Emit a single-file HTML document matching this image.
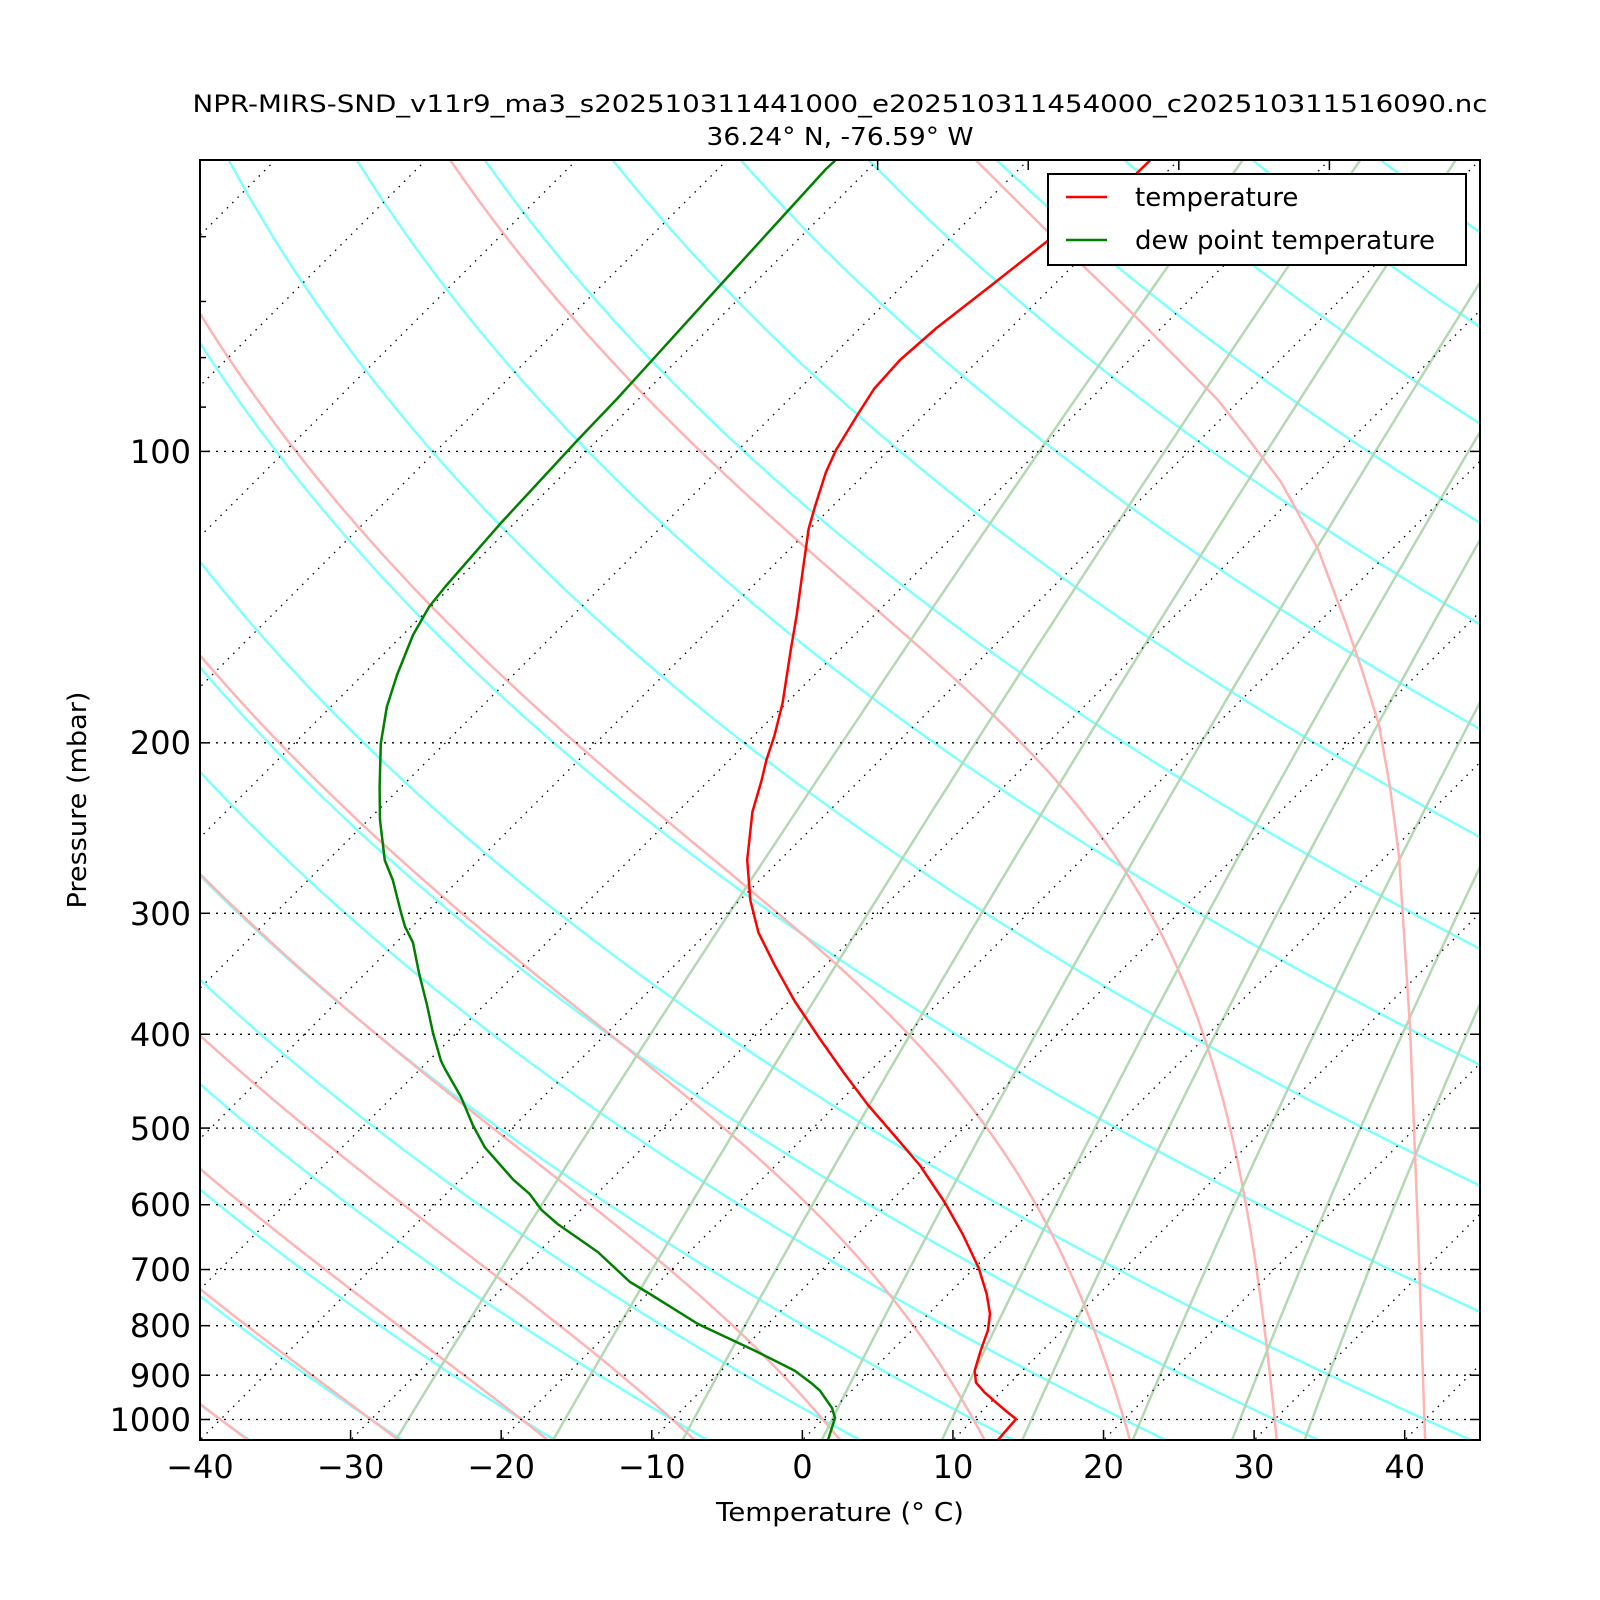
<!DOCTYPE html>
<html><head><meta charset="utf-8">
<style>
html,body{margin:0;padding:0;background:#fff;}
svg{display:block;font-family:"DejaVu Sans","Liberation Sans",sans-serif;}
</style></head>
<body>
<svg id="s" width="1600" height="1600" viewBox="0 0 1600 1600" xmlns="http://www.w3.org/2000/svg">
<rect width="1600" height="1600" fill="#fff"/>
<defs><clipPath id="c"><rect x="200" y="160" width="1280" height="1280"/></clipPath></defs>
<g id="g" clip-path="url(#c)"></g>
<g clip-path="url(#c)" fill="none" stroke-width="2.5" stroke-linejoin="round">
<polyline stroke="#ffb3b3" points="972.7,157 1045,229 1133,314 1218,400 1250,441 1281,482 1318,549 1345,621 1362,670 1379,725 1390,787 1399,856 1410,1027 1418,1230 1425,1437 1426,1445"/>
<polyline stroke="#ff0000" points="1153.5,157 1135,175 1045,243 993,284 936.5,328 900,360 874,389 858,414 836,450 826,472 815,506.5 808.7,528.6 802.7,571 796.7,615 790.6,651 782.6,703 774.5,735.5 766.5,759.6 761.7,780 752.4,812 747.2,860 750.4,900.5 758.5,932.7 774.5,964.8 794.6,1001 820,1039 844,1073 868,1105 900,1142 920.4,1166 944.5,1202 962.6,1234 978.7,1268 986.7,1294 990,1314 988,1330 980.7,1350.5 974.7,1370.6 976,1382.6 984.7,1392.6 1004.8,1410 1016,1419 998,1440"/>
<polyline stroke="#008000" points="840,156 826,169 718,287.6 617.8,398 577.7,440 501.3,522.6 445,587 429,607 413,635 397,675 386.8,707 380.8,743.6 379.6,787 380,820 384.8,860.4 392.9,880.4 401,912.6 405,926.6 413,942.7 419,973 427,1005 433,1033 441,1061 445,1069 461,1097 473,1125.5 485,1147.6 513.4,1179.8 529.5,1193.8 541.5,1209.9 557.6,1224 597.8,1252 630,1282 650,1294 698,1324 754.5,1350.5 794.6,1370.6 810.7,1382.6 820,1390.7 832,1408 835,1418 828,1440"/>
</g>
<rect x="200" y="160" width="1280" height="1280" fill="none" stroke="#000" stroke-width="2"/>
<g id="ticks" stroke="#000" stroke-width="1.5"></g>
<g font-size="32" fill="#000" text-anchor="end">
<text x="191" y="463">100</text>
<text x="191" y="754">200</text>
<text x="191" y="925">300</text>
<text x="191" y="1046">400</text>
<text x="191" y="1140">500</text>
<text x="191" y="1216">600</text>
<text x="191" y="1281">700</text>
<text x="191" y="1337">800</text>
<text x="191" y="1387">900</text>
<text x="191" y="1431">1000</text>
</g>
<g font-size="32" fill="#000" text-anchor="middle">
<text x="200" y="1478">−40</text>
<text x="350.6" y="1478">−30</text>
<text x="501.2" y="1478">−20</text>
<text x="651.8" y="1478">−10</text>
<text x="802.4" y="1478">0</text>
<text x="953" y="1478">10</text>
<text x="1103.5" y="1478">20</text>
<text x="1254" y="1478">30</text>
<text x="1404.7" y="1478">40</text>
</g>
<text x="840" y="1521" font-size="26" text-anchor="middle" textLength="248" lengthAdjust="spacingAndGlyphs">Temperature (° C)</text>
<text transform="translate(86,800) rotate(-90)" font-size="26" text-anchor="middle" textLength="217" lengthAdjust="spacingAndGlyphs">Pressure (mbar)</text>
<text x="840" y="112" font-size="24" text-anchor="middle" textLength="1295" lengthAdjust="spacingAndGlyphs">NPR-MIRS-SND_v11r9_ma3_s202510311441000_e202510311454000_c202510311516090.nc</text>
<text x="840" y="145" font-size="25" text-anchor="middle" textLength="267" lengthAdjust="spacingAndGlyphs">36.24° N, -76.59° W</text>
<rect x="1048" y="174" width="418" height="91" fill="#fff" stroke="#000" stroke-width="2"/>
<line x1="1066" y1="197" x2="1107" y2="197" stroke="#ff0000" stroke-width="2.5"/>
<line x1="1066" y1="240" x2="1107" y2="240" stroke="#008000" stroke-width="2.5"/>
<text x="1135" y="206" font-size="26">temperature</text>
<text x="1135" y="249" font-size="26">dew point temperature</text>
</svg>
<script>
(function(){
var L21=Math.log10(21);
function Y(p){return 160+1280*Math.log10(p/50)/L21;}
function X(T,p){return 200+(T+40)*1280/85+(1440-Y(p));}
var g=document.getElementById('g'),NS="http://www.w3.org/2000/svg";
function path(pts,stroke,w,dash){
  var d="";for(var i=0;i<pts.length;i++){d+=(i?"L":"M")+pts[i][0].toFixed(1)+","+pts[i][1].toFixed(1);}
  var e=document.createElementNS(NS,"path");e.setAttribute("d",d);e.setAttribute("fill","none");
  e.setAttribute("stroke",stroke);e.setAttribute("stroke-width",w);if(dash)e.setAttribute("stroke-dasharray",dash);
  g.appendChild(e);
}
var ths=[];for(var t=-100;t<=40;t+=10)ths.push(t);for(var t=60;t<=300;t+=20)ths.push(t);
ths.forEach(function(th){var pts=[];var tk=th+273.15;
  for(var p=1060;p>=45;p-=5){var T=tk*Math.pow(p/1000,0.2857)-273.15;pts.push([X(T,p),Y(p)]);} path(pts,"#80ffff",2.5);});
function es(Tc){return 6.112*Math.exp(17.67*Tc/(Tc+243.5));}
function dTdp(T,p){var e=es(T-273.15);var rs=0.622*e/Math.max(p-e,1e-3);var Rd=287.04,Cp=1005.7,Lv=2.501e6;
  return (Rd*T+Lv*rs)/(Cp+Lv*Lv*rs*0.622/(Rd*T*T))/p;}
function integ(T,p0,p1,dp){var out=[[T,p0]];var p=p0;
  while((dp<0&&p>p1)||(dp>0&&p<p1)){var k1=dTdp(T,p),k2=dTdp(T+k1*dp/2,p+dp/2),k3=dTdp(T+k2*dp/2,p+dp/2),k4=dTdp(T+k3*dp,p+dp);
    T+=dp*(k1+2*k2+2*k3+k4)/6;p+=dp;out.push([T,p]);}return out;}
for(var t0=-80;t0<=30;t0+=10){var up=integ(t0+273.15,1000,45,-2.5),dn=integ(t0+273.15,1000,1060,2.5);
  var all=dn.reverse().concat(up.slice(1));var pts=all.map(function(a){return [X(a[0]-273.15,a[1]),Y(a[1])];});path(pts,"#ffb3b3",2.5);}
[0.0004,0.001,0.002,0.004,0.007,0.01,0.016,0.024,0.032].forEach(function(w){var pts=[];
  for(var p=1060;p>=45;p-=5){var e=w*p/(0.622+w);var l=Math.log(e/6.112);var Td=243.5*l/(17.67-l);pts.push([X(Td,p),Y(p)]);}
  path(pts,"#b3d9b3",2.5);});
for(var T=-140;T<=50;T+=10){path([[X(T,1060),Y(1060)],[X(T,45),Y(45)]],"#000",1.3,"1.5,6");}
[100,200,300,400,500,600,700,800,900,1000].forEach(function(p){var y=Y(p);path([[200,y],[1480,y]],"#000",1.3,"2,6");});
var tk=document.getElementById('ticks');
function ln(x1,y1,x2,y2){var e=document.createElementNS(NS,"line");e.setAttribute("x1",x1);e.setAttribute("y1",y1);e.setAttribute("x2",x2);e.setAttribute("y2",y2);tk.appendChild(e);}
[100,200,300,400,500,600,700,800,900,1000].forEach(function(p){var y=Y(p);ln(200,y,210,y);ln(1480,y,1470,y);});
[60,70,80,90].forEach(function(p){var y=Y(p);ln(200,y,206,y);});
for(var T=-40;T<=40;T+=10){var x=200+(T+40)*1280/85;ln(x,1440,x,1430);}
[-80,-70,-60,-50].forEach(function(T){var x=200+(T+40)*1280/85+1280;ln(x,160,x,170);});
})();
</script>
</body></html>
